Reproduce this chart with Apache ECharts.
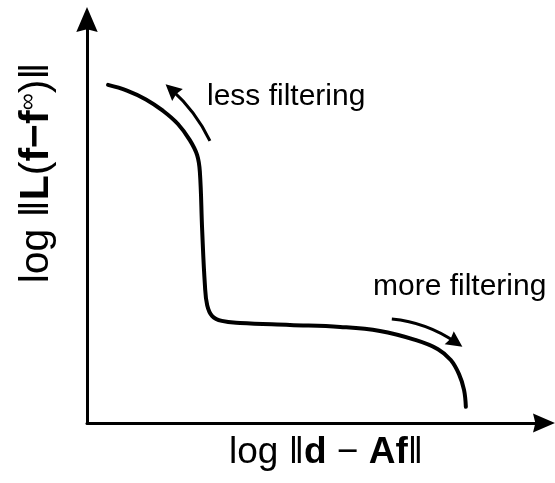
<!DOCTYPE html>
<html>
<head>
<meta charset="utf-8">
<script src="https://cdn.jsdelivr.net/npm/echarts@6/dist/echarts.min.js"></script>
<style>
  html, body { margin: 0; padding: 0; background: #fff; }
  #chart { width: 555px; height: 483px; }
</style>
</head>
<body>
<div id="chart"></div>
<script>
// L-curve: residual norm (x) against regularised solution norm (y), both on log scale
const curveX = [4.6, 8.75, 12.9, 16.6, 19.9, 22.5, 24.1, 24.7, 25.2, 25.8, 26.3, 27.4, 29.5, 33.5, 44.4, 55.4, 64.1, 71.8, 76.8, 79.6, 81.4, 82.5, 82.9];
const curveY = [83.8, 82.4, 80.2, 77.4, 74.1, 70.1, 66.4, 62.2, 47.8, 34.2, 29.2, 26.5, 25.3, 24.8, 24.3, 23.8, 22.8, 20.6, 18.3, 15.6, 12.1, 8.2, 4.0];

// direction hints along the curve: [start, end] in axis units
const lessArrow = [[26.9, 69.9], [18.5, 82.6]];
const moreArrow = [[66.7, 25.8], [80.7, 20.0]];

const axisMin = 0;
const axisMax = 100;

const curveData = curveX.map((x, i) => [x, curveY[i]]);

const arrowHead = 'path://M6,0 L12,14 L6,12.5 L0,14 Z';
const font = '"Liberation Sans", Arial, sans-serif';

const chart = echarts.init(document.getElementById('chart'), null, { renderer: 'canvas' });

chart.setOption({
  animation: false,
  backgroundColor: '#ffffff',
  grid: { left: 87, right: 11, top: 19.5, bottom: 60 },
  xAxis: {
    type: 'value', min: axisMin, max: axisMax,
    axisLine: { show: true, lineStyle: { color: '#000', width: 3 },
      symbol: ['none', arrowHead], symbolSize: [21, 22] },
    axisTick: { show: false }, axisLabel: { show: false }, splitLine: { show: false }
  },
  yAxis: {
    type: 'value', min: axisMin, max: axisMax,
    axisLine: { show: true, lineStyle: { color: '#000', width: 3 },
      symbol: ['none', arrowHead], symbolSize: [22, 25] },
    axisTick: { show: false }, axisLabel: { show: false }, splitLine: { show: false }
  },
  series: [
    {
      type: 'line',
      data: curveData,
      smooth: 0.4,
      showSymbol: false,
      lineStyle: { color: '#000', width: 4, cap: 'round' }
    },
    {
      type: 'lines',
      coordinateSystem: 'cartesian2d',
      symbol: ['none', arrowHead],
      symbolSize: [13, 16],
      lineStyle: { color: '#000', width: 3, opacity: 1 },
      data: [
        { coords: lessArrow, lineStyle: { curveness: -0.1 } },
        { coords: moreArrow, lineStyle: { curveness: 0.13 } }
      ]
    }
  ],
  graphic: [
    {
      type: 'text', x: 207, y: 97,
      style: { text: 'less filtering', font: '30px ' + font, fill: '#000', verticalAlign: 'middle' }
    },
    {
      type: 'text', x: 373, y: 287,
      style: { text: 'more filtering', font: '30px ' + font, fill: '#000', verticalAlign: 'middle' }
    },
    {
      type: 'text', x: 326, y: 453,
      style: {
        text: '{r|log ‖}{b|d}{r| − }{b|Af}{r|‖}',
        align: 'center', verticalAlign: 'middle', fill: '#000',
        rich: {
          r: { fontSize: 37, fontFamily: font, fontWeight: 'normal' },
          b: { fontSize: 37, fontFamily: font, fontWeight: 'bold' }
        }
      }
    },
    {
      type: 'text', x: 37, y: 173, rotation: Math.PI / 2,
      style: {
        text: '{r|log ‖}{b|L}{r|(}{b|f−f}{s|∞}{r|)‖}',
        align: 'center', verticalAlign: 'middle', fill: '#000',
        rich: {
          r: { fontSize: 41, fontFamily: font, fontWeight: 'normal' },
          b: { fontSize: 41, fontFamily: font, fontWeight: 'bold' },
          s: { fontSize: 24, fontFamily: font, fontWeight: 'normal', verticalAlign: 'top' }
        }
      }
    }
  ]
});
</script>
</body>
</html>
